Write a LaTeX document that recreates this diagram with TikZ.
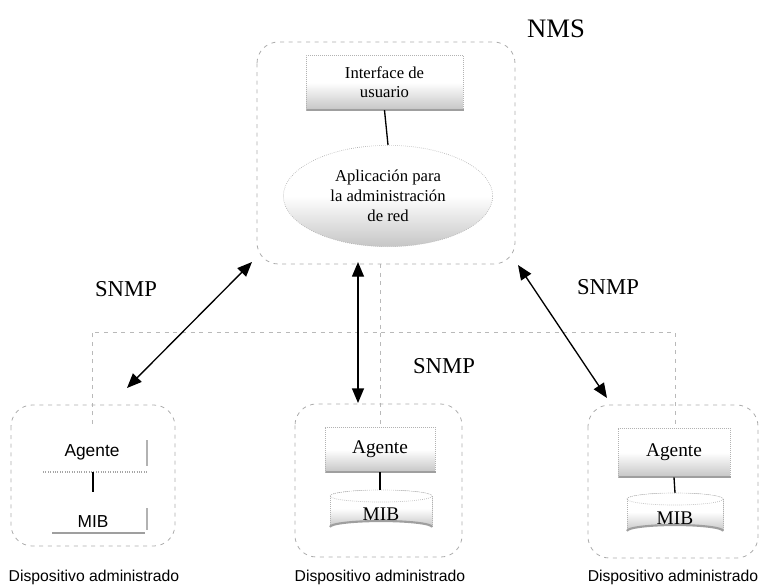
\documentclass[tikz,border=0pt]{standalone}
\usepackage{fontspec}
\setmainfont{Liberation Serif}
\newfontfamily\labfont{Liberation Sans}
\usetikzlibrary{arrows.meta,shapes.geometric}
\tikzset{
  group/.style={draw=gray!65, line width=0.6pt, dash pattern=on 3pt off 3.5pt, rounded corners=16pt},
  backline/.style={draw=gray!55, line width=0.6pt, dash pattern=on 3pt off 3.5pt},
  shadebox/.style={rectangle, draw=gray!60, densely dotted, line width=0.5pt, top color=white, bottom color=gray!45, middle color=white, inner sep=0pt, align=center},
  shadeell/.style={ellipse, draw=gray!60, densely dotted, line width=0.5pt, top color=white, bottom color=gray!45, middle color=white, inner sep=0pt, align=center},
  shadowline/.style={draw=gray!75, line width=1.6pt},
  conn/.style={draw=black, line width=1pt},
  link/.style={draw=black, line width=1pt, {Triangle[length=11pt,width=9pt]}-{Triangle[length=11pt,width=9pt]}},
  bigtxt/.style={font=\fontsize{17}{20}\selectfont},
  devtxt/.style={font=\fontsize{14.5}{16}\selectfont},
  labtxt/.style={font=\labfont\fontsize{11.8}{14}\selectfont},
  hidden/.style={draw=none, inner sep=0pt}
}
\begin{document}
\begin{tikzpicture}[x=0.75pt,y=-0.75pt]
\useasboundingbox (0,0) rectangle (763,586);

% background dashed frame
\coordinate (bl) at (92,332);
\coordinate (br) at (675,332);
\coordinate (blb) at (92,424);
\coordinate (brb) at (675,428);
\coordinate (bmt) at (380,264);
\coordinate (bmb) at (380,427);
\draw[backline] (blb) -- (bl) -- (br) -- (brb);
\draw[backline] (bmt) -- (bmb);

% NMS
\draw[group] (257,42) rectangle (515,264);
\node[font=\fontsize{20}{24}\selectfont] (nms) at (556,29) {NMS};
\node[shadebox, minimum width=117.75pt, minimum height=41pt, font=\fontsize{12.5}{14.5}\selectfont] (ui) at (384.5,82.5) {Interface de\\usuario};
\draw[shadowline] ([xshift=0.8pt]ui.south west) -- ([xshift=0.8pt]ui.south east);
\node[shadeell, minimum width=157pt, minimum height=76pt, font=\fontsize{12.5}{15}\selectfont] (app) at (388,196) {Aplicación para\\la administración\\de red};
\draw[conn] (ui.south) -- (app.north);

% SNMP labels
\node[bigtxt] (s1) at (126,289) {SNMP};
\node[bigtxt] (s2) at (608,287) {SNMP};
\node[bigtxt] (s3) at (444,366) {SNMP};

% left device
\draw[group] (11,405) rectangle (175,546);
\node[font=\labfont\fontsize{13}{15}\selectfont] (ag1) at (92,452) {Agente};
\draw[gray!60, line width=0.8pt] (147,440) -- (147,466);
\draw[gray!70, densely dotted, line width=0.8pt] (43,472) -- (147,472);
\coordinate (ag1b) at (93,472);
\node[font=\labfont\fontsize{13}{15}\selectfont] (mib1) at (93,522) {MIB};
\coordinate (mib1t) at (93,492);
\draw[gray!60, line width=0.8pt] (147,508) -- (147,530);
\draw[gray!75, line width=0.9pt] (52,533) -- (145,533);
\draw[conn] (ag1b) -- (mib1t);
\node[labtxt] (d1) at (94,577) {Dispositivo administrado};

% middle device
\draw[group] (295,404) rectangle (462,557);
\node[shadebox, devtxt, minimum width=82.5pt, minimum height=33.75pt] (ag2) at (380,449.5) {Agente};
\draw[shadowline] ([xshift=0.8pt]ag2.south west) -- ([xshift=0.8pt]ag2.south east);
\fill[top color=white, bottom color=gray!45, middle color=white] (330,496) arc[start angle=180,end angle=360,x radius=51,y radius=6] -- (432,527) arc[start angle=0,end angle=-180,x radius=51,y radius=6] -- cycle;
\fill[white] (381,496) ellipse[x radius=51,y radius=6];
\draw[gray!60, densely dotted, line width=0.5pt] (381,496) ellipse[x radius=51,y radius=6];
\draw[gray!60, densely dotted, line width=0.5pt] (330,496) -- (330,527);
\draw[gray!60, densely dotted, line width=0.5pt] (432,496) -- (432,527);
\draw[gray!75, line width=1.6pt] (330,527) arc[start angle=180,end angle=360,x radius=51,y radius=6];
\node[hidden, devtxt] (mib2) at (381,514) {MIB};
\draw[conn] (ag2.south) -- (380,490);
\node[labtxt] (d2) at (380,577) {Dispositivo administrado};

% right device
\draw[group] (588,405) rectangle (758,558);
\node[shadebox, devtxt, minimum width=84pt, minimum height=36.75pt] (ag3) at (674,452.5) {Agente};
\draw[shadowline] ([xshift=0.8pt]ag3.south west) -- ([xshift=0.8pt]ag3.south east);
\fill[top color=white, bottom color=gray!45, middle color=white] (627,499) arc[start angle=180,end angle=360,x radius=48,y radius=6] -- (723,531) arc[start angle=0,end angle=-180,x radius=48,y radius=6] -- cycle;
\fill[white] (675,499) ellipse[x radius=48,y radius=6];
\draw[gray!60, densely dotted, line width=0.5pt] (675,499) ellipse[x radius=48,y radius=6];
\draw[gray!60, densely dotted, line width=0.5pt] (627,499) -- (627,531);
\draw[gray!60, densely dotted, line width=0.5pt] (723,499) -- (723,531);
\draw[gray!75, line width=1.6pt] (627,531) arc[start angle=180,end angle=360,x radius=48,y radius=6];
\node[hidden, devtxt] (mib3) at (675,518) {MIB};
\draw[conn] (ag3.south) -- (675,493);
\node[labtxt] (d3) at (673,577) {Dispositivo administrado};

% SNMP links
\coordinate (l1a) at (252,262);
\coordinate (l1b) at (127,388);
\coordinate (l2a) at (358,262);
\coordinate (l2b) at (358,403);
\coordinate (l3a) at (518,265);
\coordinate (l3b) at (607,398);
\draw[link] (l1a) -- (l1b);
\draw[link] (l2a) -- (l2b);
\draw[link] (l3a) -- (l3b);
\end{tikzpicture}
\end{document}
